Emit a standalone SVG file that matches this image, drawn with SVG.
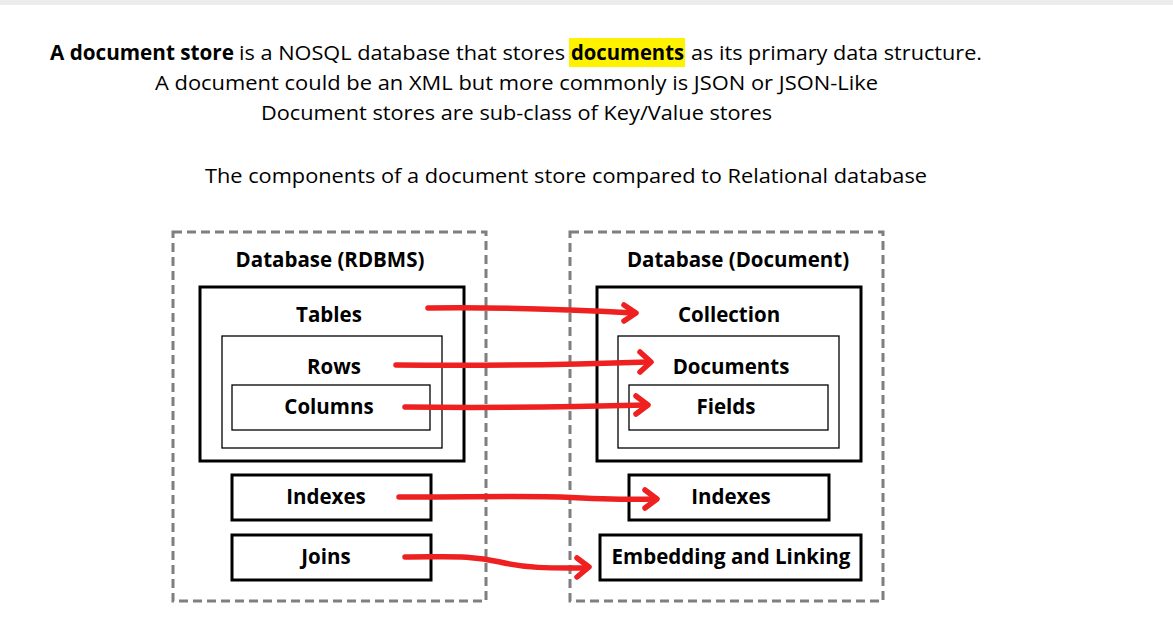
<svg xmlns="http://www.w3.org/2000/svg" width="1173" height="617" viewBox="0 0 1173 617">
<defs>
<style>
.h{font-family:"Open Sans","Liberation Sans",sans-serif;font-size:20.5px;fill:#000}
.b{font-weight:bold}
.lbl{font-family:"Open Sans","Liberation Sans",sans-serif;font-size:20.5px;font-weight:bold;fill:#000;text-anchor:middle}
.dash{fill:none;stroke:#7f7f7f;stroke-width:3;stroke-dasharray:9 5}
.thick{fill:#fff;stroke:#000;stroke-width:3}
.thin{fill:#fff;stroke:#000;stroke-width:1.3}
.arr{fill:none;stroke:#ee2020;stroke-width:5.5;stroke-linecap:round;stroke-linejoin:round}
</style>
</defs>
<rect width="1173" height="617" fill="#fff"/>
<rect width="1173" height="5" fill="#ececec"/>
<g id="header">
<rect x="569" y="38" width="116" height="29" fill="#fff200"/>
<text class="h b" x="50" y="60" textLength="184" lengthAdjust="spacingAndGlyphs">A document store</text>
<text class="h" x="239" y="60" textLength="326" lengthAdjust="spacingAndGlyphs">is a NOSQL database that stores</text>
<text class="h b" x="571" y="60" textLength="113" lengthAdjust="spacingAndGlyphs">documents</text>
<text class="h" x="691" y="60" textLength="291" lengthAdjust="spacingAndGlyphs">as its primary data structure.</text>
<text class="h" x="155" y="90" textLength="723" lengthAdjust="spacingAndGlyphs">A document could be an XML but more commonly is JSON or JSON-Like</text>
<text class="h" x="261" y="120" textLength="511" lengthAdjust="spacingAndGlyphs">Document stores are sub-class of Key/Value stores</text>
<text class="h" x="205" y="183" textLength="722" lengthAdjust="spacingAndGlyphs">The components of a document store compared to Relational database</text>
</g>
<g id="rdbms">
<rect class="dash" x="173" y="232" width="313" height="369"/>
<text class="lbl" x="330" y="267">Database (RDBMS)</text>
</g>
<g id="tables">
<rect class="thick" x="200" y="287" width="264" height="174"/>
<text class="lbl" x="329" y="322">Tables</text>
</g>
<g id="rows">
<rect class="thin" x="222" y="336" width="220" height="112"/>
<text class="lbl" x="334" y="374">Rows</text>
</g>
<g id="columns">
<rect class="thin" x="232" y="385" width="198" height="45"/>
<text class="lbl" x="329" y="414">Columns</text>
</g>
<g id="indexes-l">
<rect class="thick" x="232" y="475" width="199" height="45"/>
<text class="lbl" x="326" y="504">Indexes</text>
</g>
<g id="joins">
<rect class="thick" x="232" y="535" width="199" height="45"/>
<text class="lbl" x="326" y="564">Joins</text>
</g>
<g id="document">
<rect class="dash" x="570" y="232" width="313" height="369"/>
<text class="lbl" x="738" y="267">Database (Document)</text>
</g>
<g id="collection">
<rect class="thick" x="597" y="287" width="264" height="174"/>
<text class="lbl" x="729" y="322">Collection</text>
</g>
<g id="documents">
<rect class="thin" x="618" y="336" width="221" height="112"/>
<text class="lbl" x="731" y="374">Documents</text>
</g>
<g id="fields">
<rect class="thin" x="629" y="385" width="199" height="45"/>
<text class="lbl" x="726" y="414">Fields</text>
</g>
<g id="indexes-r">
<rect class="thick" x="629" y="475" width="200" height="45"/>
<text class="lbl" x="731" y="504">Indexes</text>
</g>
<g id="embedding">
<rect class="thick" x="600" y="535" width="261" height="45"/>
<text class="lbl" x="731" y="564">Embedding and Linking</text>
</g>
<g id="connectors">
<path class="arr" d="M428,308 C500,307 560,309 634,313"/>
<path class="arr" d="M624,305 L636,313 L624,321"/>
<path class="arr" d="M396,365 C480,366 560,365 649,362"/>
<path class="arr" d="M640,352 L651,362 L640,372"/>
<path class="arr" d="M405,407 C490,408 570,407 646,405"/>
<path class="arr" d="M636,396 L648,405 L636,414"/>
<path class="arr" d="M399,497 C470,497 520,496 560,497 C600,499 630,500 655,499"/>
<path class="arr" d="M645,490 L657,499 L645,508"/>
<path class="arr" d="M405,557 C450,557 470,555 500,562 C530,569 555,568 587,568"/>
<path class="arr" d="M577,558 L589,567 L577,577"/>
</g>
</svg>
